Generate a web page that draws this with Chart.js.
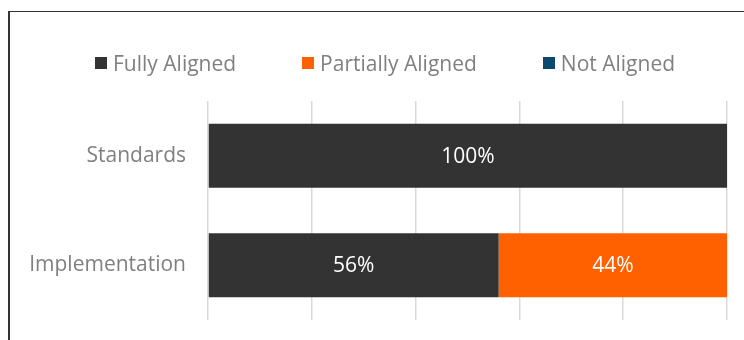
<!DOCTYPE html>
<html>
<head>
<meta charset="utf-8">
<script src="https://cdn.jsdelivr.net/npm/chart.js@4/dist/chart.umd.min.js"></script>
<style>
  html, body { margin: 0; padding: 0; background: #fff; }
  #wrap { position: relative; width: 744px; height: 340px; overflow: hidden; font-family: "Open Sans", sans-serif; }
  #frame { position: absolute; left: 8px; top: 11px; right: -4px; bottom: -4px; border-top: 1.5px solid #333; border-left: 2px solid #333; }
  #grafico { position: absolute; left: 0; top: 0; }
  #leyenda { position: absolute; left: 62px; top: 49px; display: flex; }
  .item { display: flex; align-items: center; color: #808080; font-size: 21px; margin: 0 33px; white-space: nowrap; }
  .item span.box { width: 12px; height: 12px; margin-right: 6px; }
</style>
</head>
<body>
<div id="wrap">
  <div id="frame"></div>
  <canvas id="grafico" width="744" height="340"></canvas>
  <div id="leyenda"></div>
</div>
<script>
// Categorías y valores (%)
const categorias = ['Standards', 'Implementation'];
const totalmenteAlineado = [100, 56];
const parcialmenteAlineado = [0, 44];
const noAlineado = [0, 0];
const ticksX = [0, 20, 40, 60, 80, 100];

const series = [
  { label: 'Fully Aligned', data: totalmenteAlineado, color: '#333333' },
  { label: 'Partially Aligned', data: parcialmenteAlineado, color: '#ff6000' },
  { label: 'Not Aligned', data: noAlineado, color: '#0b4870' }
];

// Etiquetas de valor dentro de cada barra
const etiquetasBarras = {
  id: 'etiquetasBarras',
  afterDatasetsDraw(chart) {
    const ctx = chart.ctx;
    ctx.save();
    ctx.fillStyle = '#ffffff';
    ctx.font = '21px "Open Sans", sans-serif';
    ctx.textAlign = 'center';
    ctx.textBaseline = 'middle';
    chart.data.datasets.forEach((ds, i) => {
      chart.getDatasetMeta(i).data.forEach((bar, j) => {
        const v = ds.data[j];
        if (!v) return;
        const c = bar.getCenterPoint();
        ctx.fillText(v + '%', c.x, c.y + 1);
      });
    });
    ctx.restore();
  }
};

const datos = {
  labels: categorias,
  datasets: series.map(s => ({
    label: s.label,
    data: s.data,
    backgroundColor: s.color,
    borderWidth: 0,
    categoryPercentage: 0.65,
    barPercentage: 0.9
  }))
};

const configuracion = {
  type: 'bar',
  data: datos,
  options: {
    indexAxis: 'y',
    responsive: false,
    animation: false,
    layout: { padding: { left: 10, right: 17, top: 101, bottom: 20 } },
    plugins: {
      legend: { display: false },
      tooltip: { enabled: false }
    },
    scales: {
      x: {
        stacked: true,
        min: 0,
        max: 100,
        afterBuildTicks(scale) { scale.ticks = ticksX.map(v => ({ value: v })); },
        afterFit(scale) { scale.height = 0; },
        ticks: { display: false },
        grid: { color: '#d9d9d9', lineWidth: 1.5, drawTicks: false },
        border: { display: false }
      },
      y: {
        stacked: true,
        afterFit(scale) { scale.width = 198; scale.paddingTop = 0; scale.paddingBottom = 0; },
        ticks: { color: '#808080', font: { family: '"Open Sans", sans-serif', size: 21 }, padding: 22 },
        grid: { display: false, drawTicks: false },
        border: { display: false }
      }
    }
  },
  plugins: [etiquetasBarras]
};

const grafico = new Chart(document.getElementById('grafico').getContext('2d'), configuracion);

// Leyenda en HTML a partir de los datasets
const leyenda = document.getElementById('leyenda');
grafico.data.datasets.forEach(ds => {
  const item = document.createElement('div');
  item.className = 'item';
  item.innerHTML = '<span class="box" style="background:' + ds.backgroundColor + '"></span>' + ds.label;
  leyenda.appendChild(item);
});
</script>
</body>
</html>
